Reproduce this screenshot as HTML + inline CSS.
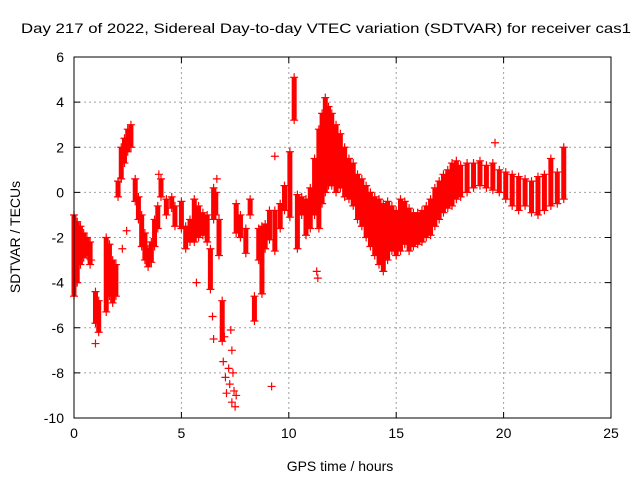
<!DOCTYPE html>
<html><head><meta charset="utf-8"><style>
html,body{margin:0;padding:0;background:#fff;}
svg{display:block;font-family:"Liberation Sans",sans-serif;}
</style></head><body>
<svg id="chart" width="640" height="480">
<text x="326" y="33" font-size="14" text-anchor="middle" textLength="610" lengthAdjust="spacingAndGlyphs">Day 217 of 2022, Sidereal Day-to-day VTEC variation (SDTVAR) for receiver cas1</text>
<text x="340" y="471" font-size="14" text-anchor="middle">GPS time / hours</text>
<text transform="translate(20,237) rotate(-90)" font-size="14" text-anchor="middle">SDTVAR / TECUs</text>
<g id="grid"></g><g id="ticks"></g><g id="marks"></g>
<rect x="74" y="57" width="537" height="361" fill="none" stroke="#000" stroke-width="1"/>
</svg>
<script>
const xTicks=[0,5,10,15,20,25];
const yTicks=[-10,-8,-6,-4,-2,0,2,4,6];
const times=[0.0,0.15,0.3,0.45,0.6,0.75,1.0,1.15,1.5,1.65,1.8,1.95,2.05,2.2,2.35,2.5,2.65,2.85,3.0,3.15,3.3,3.45,3.6,3.75,3.9,4.05,4.3,4.55,4.7,5.0,5.2,5.4,5.6,5.8,6.0,6.2,6.35,6.5,6.6,6.75,6.9,7.55,7.75,8.0,8.2,8.4,8.6,8.75,8.9,9.1,9.35,9.6,9.8,10.05,10.25,10.4,10.6,10.8,11.0,11.2,11.4,11.55,11.7,11.85,12.0,12.2,12.4,12.6,12.8,13.0,13.2,13.4,13.6,13.8,14.0,14.2,14.4,14.6,14.8,15.0,15.2,15.4,15.6,15.8,16.0,16.2,16.4,16.6,16.8,17.0,17.2,17.4,17.6,17.8,18.0,18.3,18.6,18.9,19.2,19.5,19.8,20.1,20.4,20.7,21.0,21.3,21.6,21.9,22.2,22.5,22.8];
const lowVals=[-4.6,-4.0,-3.2,-2.9,-2.8,-3.2,-5.8,-6.2,-5.3,-4.6,-4.9,-4.6,-0.2,0.6,1.3,1.8,2.0,-0.4,-1.2,-2.4,-3.0,-3.3,-3.1,-2.4,-1.6,-0.2,-1.0,-0.7,-1.5,-1.6,-2.5,-2.2,-2.2,-2.0,-1.9,-2.2,-4.3,-1.2,-1.0,-2.8,-6.6,-1.8,-2.0,-2.7,-1.0,-5.7,-3.0,-4.5,-2.5,-2.1,-2.6,-1.6,-0.8,-1.1,3.2,-2.5,-1.0,-1.9,-1.6,-1.0,-1.6,-0.5,0.0,0.3,0.3,0.0,0.2,-0.2,-0.3,-0.6,-1.2,-1.5,-2.0,-2.4,-2.8,-3.2,-3.5,-3.0,-2.6,-2.8,-2.6,-2.3,-2.6,-2.4,-2.3,-2.2,-2.0,-1.9,-1.5,-1.2,-0.9,-0.7,-0.6,-0.3,-0.2,0.0,0.2,0.3,0.2,0.1,0.0,-0.3,-0.6,-0.8,-0.6,-0.9,-1.0,-0.8,-0.6,-0.5,-0.3];
const highVals=[-1.0,-1.3,-1.5,-1.8,-2.0,-2.2,-4.4,-4.8,-2.0,-2.3,-3.0,-3.2,0.5,2.0,2.4,2.8,3.0,0.6,-0.2,-1.0,-1.8,-2.5,-2.2,-1.2,-0.6,0.6,-0.3,-0.2,-0.6,-0.4,-1.5,-1.2,-0.3,-0.6,-0.9,-1.0,-2.5,0.2,0.0,-1.2,-4.8,-0.5,-1.0,-1.6,-0.3,-4.6,-1.6,-1.5,-1.4,-0.8,-0.8,-0.5,0.3,1.8,5.1,-0.1,-0.2,-0.3,0.2,1.5,2.8,3.5,4.2,3.8,3.5,3.0,2.6,2.0,1.5,1.3,0.8,0.6,0.3,0.0,-0.2,-0.3,-0.5,-0.4,-0.6,-0.8,-0.3,-0.4,-0.7,-0.9,-0.9,-0.8,-0.6,-0.3,0.2,0.5,0.8,1.0,1.3,1.4,1.2,1.3,1.3,1.4,1.2,1.3,1.0,0.9,0.8,0.7,0.6,0.5,0.7,0.8,1.5,0.9,2.0];
const scatterT=[1.0,0.8,2.45,2.25,6.45,6.5,7.0,7.05,7.1,6.95,7.3,7.35,7.4,7.45,7.5,7.35,7.55,9.2,9.35,11.3,11.35,19.6,3.95,5.7,6.65,7.2,7.25];
const scatterV=[-6.7,-3.0,-1.7,-2.5,-5.5,-6.5,-6.4,-8.2,-8.9,-7.5,-6.1,-7.0,-8.0,-8.8,-9.5,-9.3,-9.0,-8.6,1.6,-3.5,-3.8,2.2,0.8,-4.0,0.6,-7.8,-8.5];

const X0=74,X1=611,Y0=418,Y1=57;
function xs(t){return X0+(t-0)/(25-0)*(X1-X0);}
function ys(v){return Y0-(v-(-10))/(6-(-10))*(Y0-Y1);}
const NS='http://www.w3.org/2000/svg';
function mk(tag,attrs,parent){const e=document.createElementNS(NS,tag);for(const k in attrs)e.setAttribute(k,attrs[k]);parent.appendChild(e);return e;}
const grid=document.getElementById('grid'),ticks=document.getElementById('ticks'),marks=document.getElementById('marks');
xTicks.forEach(t=>{
  const x=xs(t);
  if(t>0&&t<25){const g=mk('line',{x1:x,x2:x,y1:Y1,y2:Y0,stroke:'#a0a0a0','stroke-dasharray':'2,3'},grid);
  
  }
  mk('line',{x1:x,x2:x,y1:Y0,y2:Y0-6,stroke:'#000'},ticks);
  mk('line',{x1:x,x2:x,y1:Y1,y2:Y1+6,stroke:'#000'},ticks);
  const l=mk('text',{x:x,y:Y0+20,'font-size':14,'text-anchor':'middle'},ticks);l.textContent=t;
  
  
});
yTicks.forEach(v=>{
  const y=ys(v);
  if(v>-10&&v<6){const g=mk('line',{x1:X0,x2:X1,y1:y,y2:y,stroke:'#a0a0a0','stroke-dasharray':'2,3'},grid);
  
  }
  mk('line',{x1:X0,x2:X0+6,y1:y,y2:y,stroke:'#000'},ticks);
  mk('line',{x1:X1,x2:X1-6,y1:y,y2:y,stroke:'#000'},ticks);
  const l=mk('text',{x:X0-10,y:y+5,'font-size':14,'text-anchor':'end'},ticks);l.textContent=v;
  
  
});
function plus(t,v,name){
  const x=xs(t),y=ys(v);
  const p=mk('path',{d:`M${x-4},${y}H${x+4}M${x},${y-4}V${y+4}`,stroke:'#ff0000','stroke-width':1.2,fill:'none'},marks);
  
  
}
times.forEach((t,i)=>{
  const x=xs(t),ya=ys(highVals[i]),yb=ys(lowVals[i]);
  const b=mk('line',{x1:x,x2:x,y1:ya,y2:yb,stroke:'#ff0000','stroke-width':5},marks);
  
  
  plus(t,lowVals[i],'data-point-low');
  plus(t,highVals[i],'data-point-high');
});
scatterT.forEach((t,i)=>plus(t,scatterV[i],'data-point'));
</script>
</body></html>
